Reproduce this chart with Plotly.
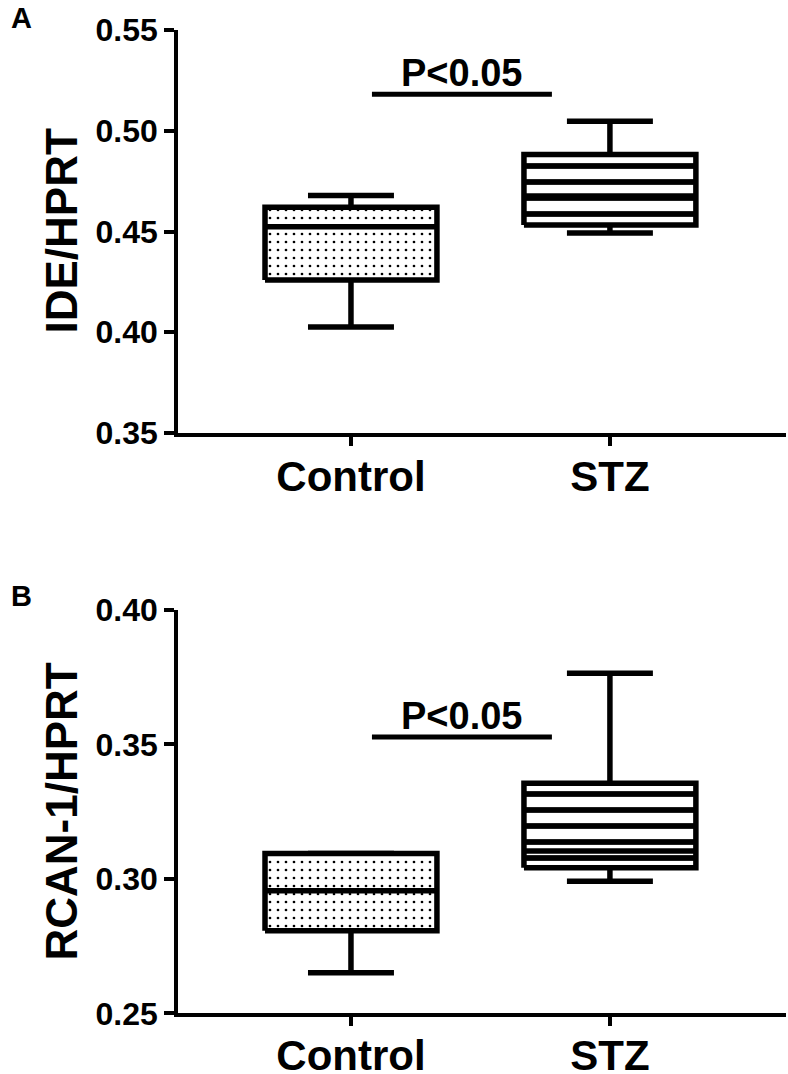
import plotly.graph_objects as go

# ---------------- data ----------------
categories = ["Control", "STZ"]

# Panel A: IDE/HPRT box statistics
ide_min = [0.4026, 0.4493]
ide_q1 = [0.4259, 0.4532]
ide_med = [0.4524, 0.4676]
ide_q3 = [0.4620, 0.4882]
ide_max = [0.4679, 0.5047]

# Panel B: RCAN-1/HPRT box statistics
rcan_min = [0.2651, 0.2991]
rcan_q1 = [0.2807, 0.3041]
rcan_med = [0.2956, 0.3104]
rcan_q3 = [0.3094, 0.3356]
rcan_max = [0.3094, 0.3765]

p_text = "P<0.05"
p_level_a = 0.5181
p_level_b = 0.3528

# ---------------- style ----------------
FONT = "Liberation Sans, Arial, Helvetica, sans-serif"
BOX_HALF = 0.332
CAP_HALF = 0.166
LW = 5.5
patterns = [
    dict(shape=".", size=8, solidity=0.09, fgcolor="black", bgcolor="white", fgopacity=1),
    dict(shape="-", size=16, solidity=0.36, fgcolor="black", bgcolor="white", fgopacity=1),
]

fig = go.Figure()


def add_boxes(mins, q1s, meds, q3s, maxs, xa, ya):
    for i, _ in enumerate(categories):
        line = dict(color="black", width=LW)
        # whiskers
        fig.add_trace(go.Scatter(x=[i, i], y=[q3s[i], maxs[i]], mode="lines", line=line,
                                 xaxis=xa, yaxis=ya, hoverinfo="skip"))
        fig.add_trace(go.Scatter(x=[i, i], y=[q1s[i], mins[i]], mode="lines", line=line,
                                 xaxis=xa, yaxis=ya, hoverinfo="skip"))
        # caps
        fig.add_trace(go.Scatter(x=[i - CAP_HALF, i + CAP_HALF], y=[maxs[i], maxs[i]], mode="lines",
                                 line=line, xaxis=xa, yaxis=ya, hoverinfo="skip"))
        fig.add_trace(go.Scatter(x=[i - CAP_HALF, i + CAP_HALF], y=[mins[i], mins[i]], mode="lines",
                                 line=line, xaxis=xa, yaxis=ya, hoverinfo="skip"))
        # box
        x0, x1 = i - BOX_HALF, i + BOX_HALF
        fig.add_trace(go.Scatter(x=[x0, x1, x1, x0, x0], y=[q1s[i], q1s[i], q3s[i], q3s[i], q1s[i]],
                                 mode="lines", fill="toself", fillcolor="white",
                                 fillpattern=patterns[i], line=line,
                                 xaxis=xa, yaxis=ya, hoverinfo="skip"))
        # median
        fig.add_trace(go.Scatter(x=[x0, x1], y=[meds[i], meds[i]], mode="lines", line=line,
                                 xaxis=xa, yaxis=ya, hoverinfo="skip"))


add_boxes(ide_min, ide_q1, ide_med, ide_q3, ide_max, "x", "y")
add_boxes(rcan_min, rcan_q1, rcan_med, rcan_q3, rcan_max, "x2", "y2")

# significance bars
bar_x = [0.081, 0.776]
for lvl, xa, ya in [(p_level_a, "x", "y"), (p_level_b, "x2", "y2")]:
    fig.add_trace(go.Scatter(x=bar_x, y=[lvl, lvl], mode="lines", line=dict(color="black", width=5),
                             xaxis=xa, yaxis=ya, hoverinfo="skip"))
    fig.add_annotation(x=sum(bar_x) / 2, y=lvl, xref=xa, yref=ya, text=p_text, showarrow=False,
                       xanchor="center", yanchor="bottom", yshift=-2,
                       font=dict(family=FONT, size=38, color="black", weight="bold"))

W, H = 788, 1074
x_dom = [178 / W, 786 / W]
x_rng = [-0.668, 1.68]

axis_common = dict(showline=True, linecolor="black", linewidth=3.5, ticks="outside",
                   tickcolor="black", tickwidth=3.5, showgrid=False, zeroline=False,
                   mirror=False, automargin=False)

fig.update_layout(
    width=W, height=H, margin=dict(l=0, r=0, t=0, b=0, pad=0, autoexpand=False),
    paper_bgcolor="white", plot_bgcolor="white", showlegend=False,
    xaxis=dict(domain=x_dom, range=x_rng, anchor="y", tickvals=[0, 1], ticktext=categories,
               ticklen=9, ticklabelstandoff=-5,
               tickfont=dict(family=FONT, size=42, color="black", weight="bold"),
               **axis_common),
    yaxis=dict(domain=[1 - 433 / H, 1 - 30 / H], range=[0.35, 0.55], anchor="x",
               tickvals=[0.35, 0.40, 0.45, 0.50, 0.55], tickformat=".2f", ticklen=10,
               tickfont=dict(family=FONT, size=32, color="black", weight="bold"), **axis_common),
    xaxis2=dict(domain=x_dom, range=x_rng, anchor="y2", tickvals=[0, 1], ticktext=categories,
                ticklen=9, ticklabelstandoff=-6,
                tickfont=dict(family=FONT, size=42, color="black", weight="bold"),
                **axis_common),
    yaxis2=dict(domain=[1 - 1013.3 / H, 1 - 610 / H], range=[0.25, 0.40], anchor="x2",
                tickvals=[0.25, 0.30, 0.35, 0.40], tickformat=".2f", ticklen=10,
                tickfont=dict(family=FONT, size=32, color="black", weight="bold"), **axis_common),
)

# axis titles and panel letters
fig.add_annotation(x=61 / W, y=1 - 231.5 / H, xref="paper", yref="paper", text="IDE/HPRT",
                   textangle=-90, showarrow=False, xanchor="center", yanchor="middle",
                   font=dict(family=FONT, size=44, color="black", weight="bold"))
fig.add_annotation(x=61 / W, y=1 - 811.5 / H, xref="paper", yref="paper", text="RCAN-1/HPRT",
                   textangle=-90, showarrow=False, xanchor="center", yanchor="middle",
                   font=dict(family=FONT, size=44, color="black", weight="bold"))
fig.add_annotation(x=21 / W, y=1 - 18 / H, xref="paper", yref="paper", text="A", showarrow=False,
                   xanchor="center", yanchor="middle",
                   font=dict(family=FONT, size=29, color="black", weight="bold"))
fig.add_annotation(x=21 / W, y=1 - 596 / H, xref="paper", yref="paper", text="B", showarrow=False,
                   xanchor="center", yanchor="middle",
                   font=dict(family=FONT, size=29, color="black", weight="bold"))

fig.write_html("out.html", config={"displayModeBar": False},
               post_script="document.body.style.margin='0';")
